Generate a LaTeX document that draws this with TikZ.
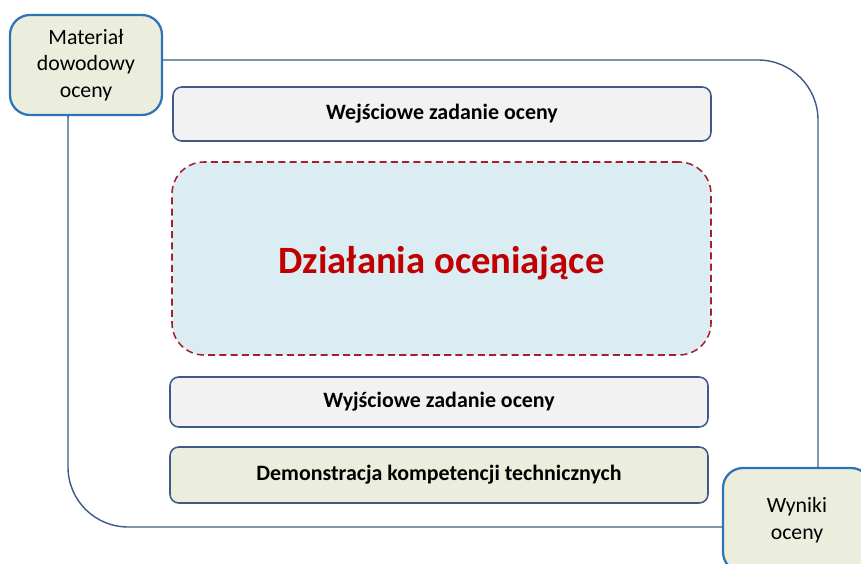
\documentclass[tikz,border=0pt]{standalone}
\usepackage{fontspec}
\setmainfont{Carlito}
\usepackage{tikz}

\definecolor{frameblue}{HTML}{3D5A86}
\definecolor{cornerblue}{HTML}{2E72B8}
\definecolor{olivefill}{HTML}{EBEEDD}
\definecolor{greyfill}{HTML}{F2F2F2}
\definecolor{iceblue}{HTML}{DCECF3}
\definecolor{darkred}{HTML}{A3202E}
\definecolor{textred}{HTML}{C00000}

\begin{document}
\begin{tikzpicture}[cornerbox/.style={draw=cornerblue, line width=1.6pt, fill=olivefill,
                      rounded corners=0.5cm, align=center, inner sep=0pt,
                      font=\fontsize{15.5}{19}\selectfont},
                    taskbox/.style={draw=frameblue, line width=1.1pt, fill=greyfill,
                      rounded corners=0.22cm, minimum width=13.45cm, inner sep=0pt,
                      font=\bfseries\fontsize{15.6}{18}\selectfont}]
  \useasboundingbox (0,0) rectangle (21.525,14.075);

  % outer frame
  \node[draw=frameblue, line width=1pt, rounded corners=1.5cm,
        minimum width=18.75cm, minimum height=11.675cm, inner sep=0pt]
        (frame) at (11.075,6.7375) {};

  \node[cornerbox, minimum width=3.8cm, minimum height=2.5cm]
        (evidence) at (2.15,12.45) {Materiał\\dowodowy\\oceny};
  \node[cornerbox, minimum width=3.7cm, minimum height=2.6cm]
        (results) at (19.925,1.075) {Wyniki\\oceny};

  \node[taskbox, minimum height=1.35cm] (input) at (11.05,11.225)
        {Wejściowe zadanie oceny};

  \node[draw=darkred, dash pattern=on 5pt off 3pt, line width=1.1pt, fill=iceblue,
        rounded corners=0.8cm, minimum width=13.475cm, minimum height=4.825cm,
        inner sep=0pt, text=textred, font=\bfseries\fontsize{27.5}{32}\selectfont]
        (actions) at (11.0375,7.6125) {};
  \node[text=textred, font=\bfseries\fontsize{27.5}{32}\selectfont]
        (actionslabel) at ([yshift=-0.12cm]actions.center) {Działania oceniające};

  \node[taskbox, minimum height=1.25cm] (output) at (10.975,4.025)
        {Wyjściowe zadanie oceny};
  \node[taskbox, fill=olivefill, minimum height=1.4cm] (demo) at (10.975,2.2)
        {Demonstracja kompetencji technicznych};
\end{tikzpicture}
\end{document}
